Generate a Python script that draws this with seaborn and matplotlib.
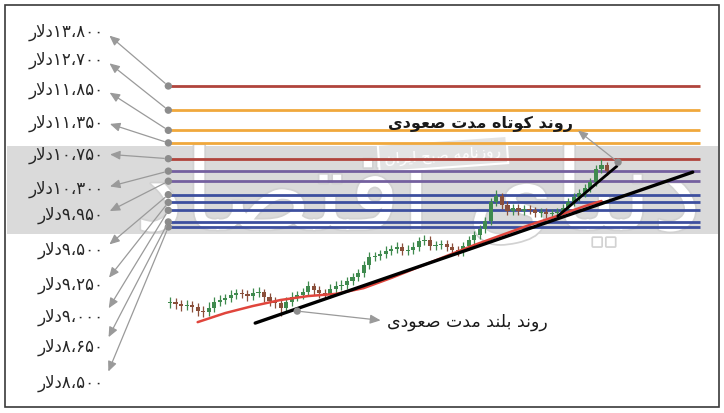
"""
Nemoudar-e ravand-e gheymat ba sathe-haye moghavemat (log scale).
"""
import re
import numpy as np
import pandas as pd
import matplotlib
matplotlib.use("Agg")
import matplotlib.pyplot as plt
import matplotlib.patheffects as pe
from matplotlib.patches import Rectangle
import seaborn as sns

# --- sath-haye gheymat (dollar) va rang-e khat ---
levels = [13800, 12700, 11850, 11350, 10750, 10300, 9950, 9500, 9250, 9000, 8650, 8500]
level_colors = ["#b0443c", "#f0a83c", "#f0a83c", "#f0a83c", "#b0443c", "#74609f",
                "#74609f", "#3d4f9f", "#3d4f9f", "#3d4f9f", "#3d4f9f", "#3d4f9f"]
label_y_px = [32, 60, 90, 123, 155, 189, 215, 250, 285, 317, 347, 383]

# --- candle-ha ---
opens = [6540, 6570, 6525, 6480, 6500, 6455, 6370, 6345, 6435, 6570, 6615, 6660, 6730, 6775,
         6755, 6705, 6775, 6800, 6685, 6590, 6545, 6435, 6570, 6685, 6730, 6800, 6940, 6845,
         6775, 6755, 6870, 6940, 6965, 7060, 7160, 7260, 7460, 7670, 7695, 7745, 7830, 7880,
         7935, 7830, 7855, 7935, 8100, 8130, 7965, 7990, 8020, 7935, 7855, 7800, 7965, 8130,
         8270, 8440, 8680, 9265, 9455, 9170, 8980, 9075, 8980, 9045, 9010, 8920, 8950, 8890,
         8920, 8950, 9075, 9265, 9425, 9555, 9720, 9920, 10375, 10520]
closes = [6570, 6525, 6480, 6500, 6455, 6370, 6345, 6435, 6570, 6615, 6660, 6730, 6775, 6755,
          6705, 6775, 6800, 6685, 6590, 6545, 6435, 6570, 6685, 6730, 6800, 6940, 6845, 6775,
          6755, 6870, 6940, 6965, 7060, 7160, 7260, 7460, 7670, 7695, 7745, 7830, 7880, 7935,
          7830, 7855, 7935, 8100, 8130, 7965, 7990, 8020, 7935, 7855, 7800, 7965, 8130, 8270,
          8440, 8680, 9265, 9455, 9170, 8980, 9075, 8980, 9045, 9010, 8920, 8950, 8890, 8920,
          8950, 9075, 9265, 9425, 9555, 9720, 9920, 10375, 10520, 10305]
highs = [6680, 6650, 6610, 6620, 6590, 6540, 6470, 6560, 6690, 6720, 6760, 6850, 6880, 6870,
         6850, 6900, 6920, 6880, 6780, 6690, 6640, 6680, 6800, 6830, 6900, 7060, 7020, 6950,
         6880, 6980, 7060, 7080, 7170, 7270, 7370, 7570, 7790, 7810, 7860, 7950, 8000, 8060,
         8040, 7980, 8060, 8220, 8260, 8230, 8100, 8140, 8120, 8040, 7960, 8080, 8240, 8380,
         8560, 8800, 9400, 9640, 9560, 9290, 9210, 9190, 9170, 9160, 9120, 9080, 9060, 9040,
         9070, 9190, 9380, 9550, 9680, 9840, 10060, 10520, 10720, 10640]
lows = [6440, 6420, 6380, 6390, 6350, 6260, 6240, 6250, 6340, 6470, 6520, 6560, 6630, 6660,
        6600, 6610, 6680, 6580, 6490, 6440, 6260, 6330, 6470, 6590, 6630, 6700, 6740, 6670,
        6650, 6650, 6770, 6840, 6860, 6960, 7060, 7150, 7350, 7560, 7590, 7640, 7720, 7770,
        7720, 7730, 7750, 7830, 7990, 7850, 7860, 7880, 7830, 7750, 7690, 7700, 7860, 8020,
        8160, 8330, 8570, 9150, 9050, 8860, 8870, 8860, 8870, 8890, 8800, 8810, 8770, 8780,
        8810, 8840, 8960, 9140, 9300, 9430, 9600, 9800, 10250, 10180]

# --- miangin-e motaharrek (ghermez) va khotut-e ravand ---
ma_x = [5, 10, 15, 20, 25, 30, 35, 40, 45, 50, 55, 60, 65, 70, 75, 78]
ma_y = [6130, 6325, 6480, 6615, 6705, 6755, 6890, 7135, 7410, 7695, 7990, 8270, 8560, 8830, 9135, 9295]
long_trend_x = [15.4, 94.5]
long_trend_y = [6110, 10265]
short_trend_x = [70.1, 80.8]
short_trend_y = [8824, 10479]
short_dot = (81.0, 10620)
long_dot = (23.0, 6367)

# --- shekl-dadan-e horuf-e farsi (matplotlib RTL nadarad) ---
# isolated, final, initial, medial
FORMS = {
    "ا": "\uFE8D\uFE8E", "د": "\uFEA9\uFEAA", "ر": "\uFEAD\uFEAE",
    "ز": "\uFEAF\uFEB0", "و": "\uFEED\uFEEE",
    "ب": "\uFE8F\uFE90\uFE91\uFE92", "ت": "\uFE95\uFE96\uFE97\uFE98",
    "ج": "\uFE9D\uFE9E\uFE9F\uFEA0", "ح": "\uFEA1\uFEA2\uFEA3\uFEA4",
    "ص": "\uFEB9\uFEBA\uFEBB\uFEBC", "ع": "\uFEC9\uFECA\uFECB\uFECC",
    "ق": "\uFED5\uFED6\uFED7\uFED8", "ل": "\uFEDD\uFEDE\uFEDF\uFEE0",
    "م": "\uFEE1\uFEE2\uFEE3\uFEE4", "ن": "\uFEE5\uFEE6\uFEE7\uFEE8",
    "ه": "\uFEE9\uFEEA\uFEEB\uFEEC", "ک": "\uFB8E\uFB8F\uFB90\uFB91",
    "ی": "\uFBFC\uFBFD\uFEF3\uFEF4",
}


def dual(ch):
    return ch in FORMS and len(FORMS[ch]) == 4


def fa(text):
    out = []
    i, n = 0, len(text)
    while i < n:
        ch = text[i]
        if ch not in FORMS:
            out.append(ch)
            i += 1
            continue
        prev_join = i > 0 and dual(text[i - 1])
        if ch == "ل" and i + 1 < n and text[i + 1] == "ا":
            out.append("\uFEFC" if prev_join else "\uFEFB")
            i += 2
            continue
        next_join = dual(ch) and i + 1 < n and text[i + 1] in FORMS
        f = FORMS[ch]
        if prev_join and next_join:
            out.append(f[3])
        elif next_join:
            out.append(f[2])
        elif prev_join:
            out.append(f[1])
        else:
            out.append(f[0])
        i += 1
    tokens = re.findall(r"[۰-۹0-9][۰-۹0-9،.]*|.", "".join(out))
    return "".join(reversed(tokens))


FA_DIGITS = str.maketrans("0123456789", "۰۱۲۳۴۵۶۷۸۹")


def price_label(v):
    return fa(f"{v:,}".replace(",", "،").translate(FA_DIGITS) + "دلار")


sns.set_theme(style="white")
plt.rcParams["font.family"] = ["DejaVu Sans"]

W, H = 724, 414
fig = plt.figure(figsize=(W / 100, H / 100), dpi=100)
ax = fig.add_axes([0, 0, 1, 1])
ax.set_yscale("log")
ax.set_xlim(-30.73, 100.15)
ax.set_ylim(4486, 18609)
ax.axis("off")

# navar-e khakestari
ax.axhspan(8298, 11229, xmin=7 / W, xmax=718 / W, color="#dadada", lw=0, zorder=0)

# watermark
ax.text(418, H - 200, fa("دنیای اقتصاد"), transform=None, fontsize=80,
        color="white", ha="center", va="center", zorder=0.6,
        path_effects=[pe.withStroke(linewidth=2.5, foreground="#d2d2d2")])
ax.text(443, H - 155, fa("روزنامه صبح ایران"), transform=None, fontsize=11,
        color="white", ha="center", va="center", rotation=4, zorder=0.7,
        bbox=dict(boxstyle="square,pad=0.4", fc="#e3e3e3", ec="white", lw=1.5))

# khotut-e ofoghi
x_start, x_end = -0.3, 95.8
ax.hlines(levels, x_start, x_end, colors=level_colors, lw=2.0, zorder=2)

# candle-ha
idx = np.arange(len(closes))
df = pd.DataFrame({"o": opens, "c": closes, "h": highs, "l": lows}, index=idx)
up = df["c"] >= df["o"]
cols = np.where(up, "#3f8a4e", "#8a4f3a")
ax.vlines(idx, df["l"], df["h"], colors=cols, lw=0.9, zorder=3)
body_lo = df[["o", "c"]].min(axis=1)
body_hi = df[["o", "c"]].max(axis=1)
ax.bar(idx, body_hi - body_lo, bottom=body_lo, width=0.75, color=cols, lw=0, zorder=3)

# MA va ravand-ha
sns.lineplot(x=ma_x, y=ma_y, color="#e0453c", lw=1.8, ax=ax, zorder=3.5, legend=False)
sns.lineplot(x=long_trend_x, y=long_trend_y, color="black", lw=2.4, ax=ax, zorder=4, legend=False)
sns.lineplot(x=short_trend_x, y=short_trend_y, color="black", lw=2.0, ax=ax, zorder=4, legend=False)

# noghte-ha va bar-chasb-ha
sns.scatterplot(x=[x_start] * len(levels), y=levels, color="#8c8c8c", s=28,
                edgecolor="none", ax=ax, zorder=5, legend=False)
sns.scatterplot(x=[short_dot[0], long_dot[0]], y=[short_dot[1], long_dot[1]],
                color="#8c8c8c", s=28, edgecolor="none", ax=ax, zorder=5, legend=False)

arrow = dict(arrowstyle="<|-,head_length=0.5,head_width=0.22", color="#9a9a9a",
             lw=0.9, shrinkA=2, shrinkB=3)
for v, ypx in zip(levels, label_y_px):
    ax.annotate(price_label(v), xy=(x_start, v), xytext=(104, H - ypx),
                textcoords="figure pixels", ha="right", va="center",
                fontsize=12, color="#262626", zorder=6,
                arrowprops=dict(arrow, relpos=(1, 0.5)))

ax.annotate(fa("روند کوتاه مدت صعودی"), xy=short_dot, xytext=(480, H - 124),
            textcoords="figure pixels", ha="center", va="center", fontsize=11.5,
            fontweight="bold", color="#1a1a1a", zorder=6,
            arrowprops=dict(arrow, relpos=(1, 0.3)))
ax.annotate(fa("روند بلند مدت صعودی"), xy=long_dot, xytext=(467, H - 322),
            textcoords="figure pixels", ha="center", va="center", fontsize=12.5,
            color="#1a1a1a", zorder=6,
            arrowprops=dict(arrow, relpos=(0, 0.5)))

# ghab
fig.patches.append(Rectangle((5 / W, 6 / H), 714 / W, 402 / H, transform=fig.transFigure,
                             fill=False, ec="#3a3a3a", lw=1.2))

fig.savefig("out.png", dpi=100)
